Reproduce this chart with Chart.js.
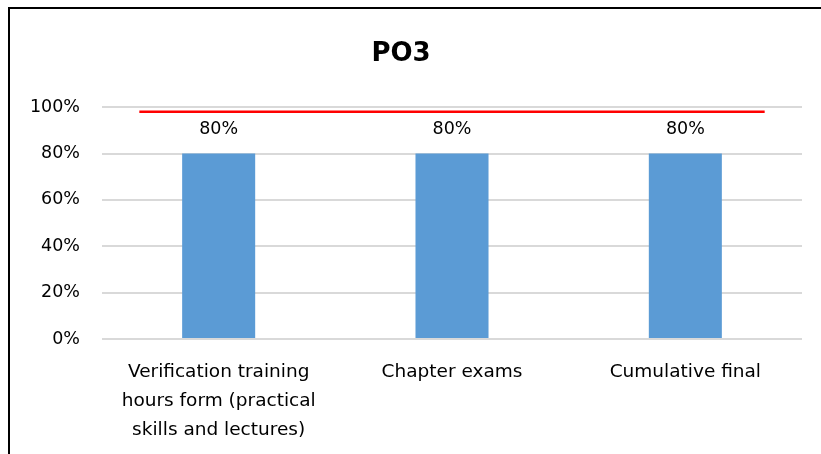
<!DOCTYPE html>
<html>
<head>
<meta charset="utf-8">
<script src="https://cdn.jsdelivr.net/npm/chart.js@4/dist/chart.umd.min.js"></script>
<style>
  html, body { margin: 0; padding: 0; background: #fff; overflow: hidden; }
  #wrap { width: 821px; height: 454px; }
</style>
</head>
<body>
<div id="wrap">
  <canvas id="chart" width="821" height="454"></canvas>
</div>
<script>
// Chart data
const categories = [
    ['Verification training', 'hours form (practical', 'skills and lectures)'],
    'Chapter exams',
    'Cumulative final'
];
const scores = [80, 80, 80];
const yTicks = [0, 20, 40, 60, 80, 100];
// red target line (x in category index units)
const targetX = [-0.34, 2.34];
const targetY = [98, 98];

const fontFamily = '"DejaVu Sans", sans-serif';

// outer frame: only left and top edges are visible in the picture
const frame = {
    id: 'frame',
    beforeDraw(chart) {
        const ctx = chart.ctx;
        ctx.save();
        ctx.strokeStyle = '#000';
        ctx.lineWidth = 2;
        ctx.beginPath();
        ctx.moveTo(9, chart.height);
        ctx.lineTo(9, 8);
        ctx.lineTo(chart.width, 8);
        ctx.stroke();
        ctx.restore();
    }
};

// draws "80%" above each bar
const barLabels = {
    id: 'barLabels',
    afterDatasetsDraw(chart) {
        const ctx = chart.ctx;
        const meta = chart.getDatasetMeta(0);
        ctx.save();
        ctx.font = `17.5px ${fontFamily}`;
        ctx.fillStyle = '#000';
        ctx.textAlign = 'center';
        ctx.textBaseline = 'middle';
        meta.data.forEach((bar, i) => {
            ctx.fillText(`${scores[i]}%`, bar.x, bar.y - 24);
        });
        ctx.restore();
    }
};

new Chart(document.getElementById('chart'), {
    type: 'bar',
    data: {
        labels: categories,
        datasets: [{
            type: 'bar',
            data: scores,
            backgroundColor: '#5b9bd5',
            grouped: false,
            categoryPercentage: 1,
            barPercentage: 0.313,
            order: 2
        }, {
            type: 'line',
            data: targetX.map((x, i) => ({ x: x, y: targetY[i] })),
            xAxisID: 'x2',
            borderColor: '#ff0000',
            borderWidth: 2.5,
            pointRadius: 0,
            fill: false,
            order: 1
        }]
    },
    options: {
        responsive: false,
        animation: false,
        layout: { padding: { left: 0, right: 19, top: 0, bottom: 0 } },
        plugins: {
            legend: { display: false },
            tooltip: { enabled: false },
            title: {
                display: true,
                text: 'PO3',
                color: '#000',
                font: { family: fontFamily, size: 26, weight: 'bold', lineHeight: 1.2 },
                padding: { top: 39, bottom: 37 }
            }
        },
        scales: {
            x: {
                type: 'category',
                offset: true,
                grid: { display: false, drawTicks: false },
                border: { display: false },
                ticks: {
                    color: '#000',
                    padding: 19,
                    maxRotation: 0,
                    autoSkip: false,
                    font: { family: fontFamily, size: 18.5, lineHeight: 1.57 }
                },
                afterFit(scale) { scale.height = 115; }
            },
            x2: {
                type: 'linear',
                display: false,
                offset: false,
                grid: { offset: false },
                min: -0.5,
                max: 2.5
            },
            y: {
                min: 0,
                max: 100,
                afterBuildTicks(scale) { scale.ticks = yTicks.map(v => ({ value: v })); },
                grid: { color: '#d9d9d9', lineWidth: 2, drawTicks: false },
                border: { display: false },
                ticks: {
                    color: '#000',
                    padding: 22,
                    font: { family: fontFamily, size: 17.5 },
                    callback: v => v + '%'
                },
                afterFit(scale) { scale.width = 102; }
            }
        }
    },
    plugins: [frame, barLabels]
});
</script>
</body>
</html>
